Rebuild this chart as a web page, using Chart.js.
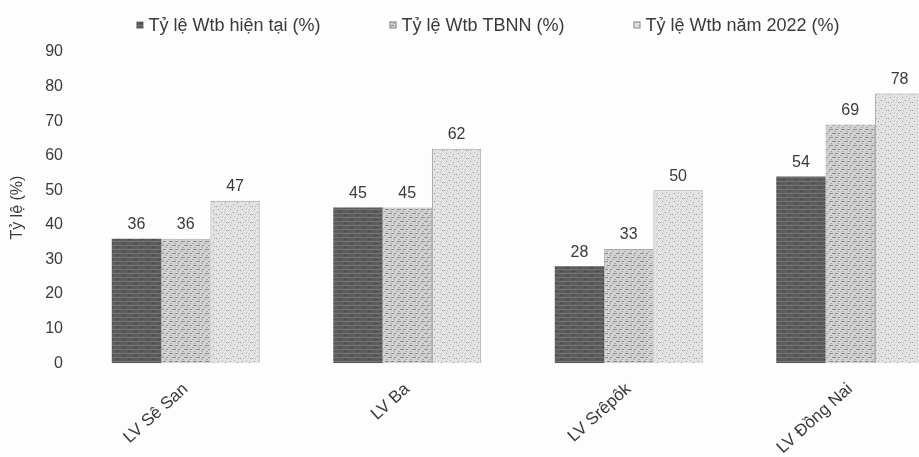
<!DOCTYPE html>
<html>
<head>
<meta charset="utf-8">
<script src="https://cdn.jsdelivr.net/npm/chart.js@4.4.1/dist/chart.umd.min.js"></script>
<style>
  html, body { margin: 0; padding: 0; background: #fdfdfd; overflow: hidden; }
  #wrap { width: 919px; height: 457px; overflow: hidden; }
</style>
</head>
<body>
<div id="wrap"><canvas id="myChart" width="966" height="457"></canvas></div>
<script>
const categories = ['LV Sê San', 'LV Ba', 'LV Srêpôk', 'LV Đồng Nai'];
const seriesNames = ['Tỷ lệ Wtb hiện tại (%)', 'Tỷ lệ Wtb TBNN (%)', 'Tỷ lệ Wtb năm 2022 (%)'];
const wtbCurrent = [36, 45, 28, 54];
const wtbAverage = [36, 45, 33, 69];
const wtb2022 = [47, 62, 50, 78];
const yMin = 0, yMax = 90, yStep = 10;

const FONT = 'Arial, "Liberation Sans", sans-serif';
const textColor = '#3a3a3a';

// scanned-looking fill textures
function makePattern(base, draw) {
  const c = document.createElement('canvas');
  c.width = 12; c.height = 8;
  const g = c.getContext('2d');
  g.fillStyle = base;
  g.fillRect(0, 0, 12, 8);
  draw(g);
  return g.createPattern(c, 'repeat');
}
const ctx = document.getElementById('myChart').getContext('2d');

const fillCurrent = makePattern('#5c5c5c', g => {
  g.fillStyle = '#737373';
  g.fillRect(0, 1, 12, 1);
  g.fillRect(0, 5, 12, 1);
  g.fillStyle = '#4a4a4a';
  g.fillRect(2, 3, 3, 1);
  g.fillRect(8, 7, 3, 1);
});
const fillAverage = makePattern('#d2d2d2', g => {
  g.fillStyle = '#8c8c8c';
  g.fillRect(1, 1, 4, 1);
  g.fillRect(7, 1, 3, 1);
  g.fillRect(4, 5, 4, 1);
  g.fillRect(10, 5, 2, 1);
  g.fillStyle = '#aaaaaa';
  g.fillRect(0, 3, 2, 1);
  g.fillRect(6, 3, 2, 1);
  g.fillRect(2, 7, 2, 1);
  g.fillRect(9, 7, 2, 1);
});
const fill2022 = makePattern('#e3e3e3', g => {
  g.fillStyle = '#9a9a9a';
  g.fillRect(2, 1, 1, 1);
  g.fillRect(9, 2, 1, 1);
  g.fillRect(5, 4, 1, 1);
  g.fillRect(0, 6, 1, 1);
  g.fillRect(10, 6, 1, 1);
  g.fillStyle = '#bcbcbc';
  g.fillRect(6, 0, 1, 1);
  g.fillRect(3, 6, 1, 1);
  g.fillRect(8, 4, 1, 1);
});

// value labels above bars
const valueLabels = {
  id: 'valueLabels',
  afterDatasetsDraw(chart) {
    const c = chart.ctx;
    c.save();
    c.font = '16px ' + FONT;
    c.fillStyle = textColor;
    c.textAlign = 'center';
    c.textBaseline = 'bottom';
    chart.data.datasets.forEach((ds, i) => {
      chart.getDatasetMeta(i).data.forEach((bar, j) => {
        c.fillText(ds.data[j], bar.x, bar.y - 6);
      });
    });
    c.restore();
  }
};

// legend across the top, spaced like the original
const topLegend = {
  id: 'topLegend',
  afterDraw(chart) {
    const c = chart.ctx;
    const gap = 69, box = 7, boxGap = 5, y = 25;
    c.save();
    c.font = '18px ' + FONT;
    c.textBaseline = 'middle';
    const widths = chart.data.datasets.map(ds => box + boxGap + c.measureText(ds.label).width);
    const total = widths.reduce((a, b) => a + b, 0) + gap * (widths.length - 1);
    let x = 488 - total / 2;
    chart.data.datasets.forEach((ds, i) => {
      c.fillStyle = ds.backgroundColor;
      c.fillRect(x, y - box / 2, box, box);
      c.strokeStyle = '#8a8a8a';
      c.lineWidth = 1;
      if (i > 0) c.strokeRect(x + 0.5, y - box / 2 + 0.5, box - 1, box - 1);
      c.fillStyle = textColor;
      c.fillText(ds.label, x + box + boxGap, y + 1);
      x += widths[i] + gap;
    });
    c.restore();
  }
};

const data = {
  labels: categories,
  datasets: [
    { label: seriesNames[0], data: wtbCurrent, backgroundColor: fillCurrent, borderWidth: 0 },
    { label: seriesNames[1], data: wtbAverage, backgroundColor: fillAverage, borderColor: '#a8a8a8', borderWidth: 1 },
    { label: seriesNames[2], data: wtb2022, backgroundColor: fill2022, borderColor: '#a0a0a0', borderWidth: 1 }
  ]
};

const config = {
  type: 'bar',
  data,
  options: {
    responsive: false,
    devicePixelRatio: 1,
    animation: false,
    layout: { padding: { top: 52, left: 4, right: 5, bottom: -17 } },
    datasets: { bar: { categoryPercentage: 0.668, barPercentage: 1 } },
    plugins: {
      legend: { display: false },
      tooltip: { enabled: false }
    },
    scales: {
      x: {
        grid: { display: false, drawTicks: false },
        border: { display: false },
        ticks: {
          color: textColor,
          font: { family: FONT, size: 17 },
          minRotation: 42,
          maxRotation: 42,
          padding: 16
        }
      },
      y: {
        min: yMin,
        max: yMax,
        grid: { display: false, drawTicks: false },
        border: { display: false },
        ticks: {
          stepSize: yStep,
          color: textColor,
          font: { family: FONT, size: 16 },
          padding: 12
        },
        title: {
          display: true,
          text: 'Tỷ lệ (%)',
          color: textColor,
          font: { family: FONT, size: 16 },
          padding: { top: 4, bottom: 6 }
        }
      }
    }
  },
  plugins: [valueLabels, topLegend]
};

const myChart = new Chart(ctx, config);
</script>
</body>
</html>
